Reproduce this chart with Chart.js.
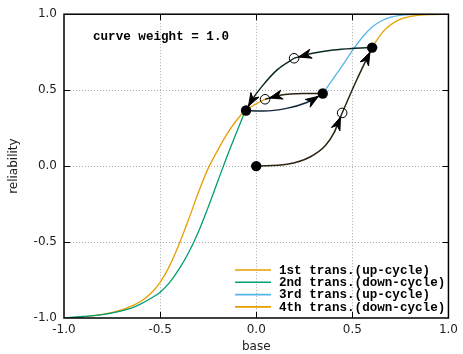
<!DOCTYPE html>
<html><head><meta charset="utf-8">
<script src="https://cdn.jsdelivr.net/npm/chart.js@4"></script>
<style>html,body{margin:0;padding:0;background:#fff}</style>
</head><body>
<canvas id="c" width="463" height="354"></canvas>
<script>
// ---- data ----
const legendLabels = ['1st trans.(up-cycle)', '2nd trans.(down-cycle)', '3rd trans.(up-cycle)', '4th trans.(down-cycle)'];
const tickValues = [-1, -0.5, 0, 0.5, 1];
const annotationText = 'curve weight = 1.0';

// coloured reliability curves
const firstX  = [0.603, 0.63, 0.66, 0.7, 0.75, 0.8, 0.85, 0.9, 1.0];
const firstY  = [0.783, 0.835, 0.885, 0.93, 0.967, 0.985, 0.994, 0.998, 1.0];
const secondX = [-1, -0.9, -0.8, -0.7, -0.65, -0.6, -0.55, -0.5, -0.45, -0.4, -0.35, -0.3, -0.25, -0.2, -0.15, -0.1, -0.056];
const secondY = [-1, -0.99, -0.978, -0.953, -0.935, -0.907, -0.872, -0.83, -0.765, -0.675, -0.565, -0.43, -0.27, -0.1, 0.07, 0.23, 0.366];
const thirdX  = [0.346, 0.4, 0.45, 0.5, 0.55, 0.6, 0.65, 0.7, 0.75, 0.8, 0.9, 1.0];
const thirdY  = [0.478, 0.575, 0.665, 0.76, 0.845, 0.912, 0.955, 0.98, 0.992, 0.997, 1.0, 1.0];
const fourthX = [-1, -0.9, -0.8, -0.7, -0.65, -0.6, -0.55, -0.5, -0.45, -0.4, -0.35, -0.3, -0.25, -0.2, -0.15, -0.1, -0.056, 0, 0.046];
const fourthY = [-1, -0.992, -0.976, -0.946, -0.922, -0.89, -0.84, -0.765, -0.655, -0.51, -0.345, -0.17, -0.015, 0.105, 0.215, 0.305, 0.366, 0.41, 0.44];

// trajectory (arrows) segments
const path1aX = [0, 0.16, 0.28, 0.36, 0.405, 0.428, 0.447];
const path1aY = [0, 0.012, 0.06, 0.135, 0.22, 0.29, 0.35];
const path1bX = [0.447, 0.52, 0.603];
const path1bY = [0.35, 0.56, 0.78];
const path2aX = [0.603, 0.5, 0.4, 0.3, 0.197];
const path2aY = [0.78, 0.775, 0.765, 0.745, 0.71];
const path2bX = [0.197, 0.11, 0.03, -0.02, -0.053];
const path2bY = [0.71, 0.635, 0.525, 0.44, 0.366];
const path3X  = [-0.053, 0.038, 0.158, 0.26, 0.312, 0.346];
const path3Y  = [0.366, 0.362, 0.38, 0.417, 0.45, 0.478];
const path4X  = [0.346, 0.243, 0.123, 0.046];
const path4Y  = [0.478, 0.478, 0.467, 0.44];

// state markers
const filledX = [0, 0.603, -0.053, 0.346];
const filledY = [0, 0.78, 0.366, 0.478];
const openX   = [0.447, 0.197, 0.046];
const openY   = [0.35, 0.71, 0.44];

// ---- helpers ----
const pts = (xs, ys) => xs.map((x, i) => ({x: x, y: ys[i]}));
const ORANGE = '#E69F00', GREEN = '#009E73', BLUE = '#56B4E9';
const MONO = '"Liberation Mono", "DejaVu Sans Mono", monospace';

function curve(label, xs, ys, color, row) {
  return {label, data: pts(xs, ys), showLine: true, borderColor: color, borderWidth: 1.3,
    pointRadius: 0, cubicInterpolationMode: 'monotone', fill: false, order: 3, legendRow: row};
}
function path(xs, ys, color, gap) {
  return {data: pts(xs, ys), showLine: true, borderColor: color, borderWidth: 1.5,
    pointRadius: 0, cubicInterpolationMode: 'monotone', fill: false, order: 2, arrowEnd: true, arrowGap: gap};
}

const datasets = [
  curve(legendLabels[0], firstX, firstY, ORANGE, 0),
  curve(legendLabels[1], secondX, secondY, GREEN, 1),
  curve(legendLabels[2], thirdX, thirdY, BLUE, 2),
  curve(legendLabels[3], fourthX, fourthY, ORANGE, 3),
  path(path1aX, path1aY, '#2c2310', 4.5),
  path(path1bX, path1bY, '#2c2310', 5),
  path(path2aX, path2aY, '#0c2a27', 4.5),
  path(path2bX, path2bY, '#0c2a27', 5),
  path(path3X, path3Y, '#10263a', 5),
  path(path4X, path4Y, '#2c2310', 4.5),
  {data: pts(openX, openY), showLine: false, pointRadius: 4.8, pointBorderWidth: 1,
    pointBorderColor: '#000', pointBackgroundColor: 'rgba(0,0,0,0)', order: 1},
  {data: pts(filledX, filledY), showLine: false, pointRadius: 5.2, pointBorderWidth: 0,
    pointBackgroundColor: '#000', pointBorderColor: '#000', order: 0}
];

const arrowPlugin = {
  id: 'arrows',
  afterDatasetsDraw(chart) {
    const ctx = chart.ctx;
    chart.data.datasets.forEach((ds, i) => {
      if (!ds.arrowEnd) return;
      const els = chart.getDatasetMeta(i).data;
      const n = els.length;
      const tip = els[n - 1];
      let bx = els[n - 2].x, by = els[n - 2].y;
      let dx = tip.x - bx, dy = tip.y - by;
      const L = Math.hypot(dx, dy) || 1; dx /= L; dy /= L;
      const tx = tip.x - dx * ds.arrowGap, ty = tip.y - dy * ds.arrowGap;
      const len = 13, half = 4.6, notch = 9;
      const nx = -dy, ny = dx;
      ctx.save();
      ctx.fillStyle = '#000';
      ctx.strokeStyle = '#000';
      ctx.lineWidth = 1;
      ctx.lineJoin = 'miter';
      ctx.beginPath();
      ctx.moveTo(tx, ty);
      ctx.lineTo(tx - dx * len + nx * half, ty - dy * len + ny * half);
      ctx.lineTo(tx - dx * notch, ty - dy * notch);
      ctx.lineTo(tx - dx * len - nx * half, ty - dy * len - ny * half);
      ctx.closePath();
      ctx.fill();
      ctx.stroke();
      ctx.restore();
    });
  }
};

const framePlugin = {
  id: 'frame',
  afterDraw(chart) {
    const ctx = chart.ctx, a = chart.chartArea;
    const xs = chart.scales.x, ys = chart.scales.y;
    ctx.save();
    ctx.strokeStyle = '#000';
    ctx.lineWidth = 1;
    ctx.beginPath();
    tickValues.forEach(v => {
      if (Math.abs(v) === 1) return;
      const px = Math.round(xs.getPixelForValue(v)) + 0.5;
      ctx.moveTo(px, a.bottom); ctx.lineTo(px, a.bottom - 6);
      ctx.moveTo(px, a.top); ctx.lineTo(px, a.top + 6);
      const py = Math.round(ys.getPixelForValue(v)) + 0.5;
      ctx.moveTo(a.left, py); ctx.lineTo(a.left + 6, py);
      ctx.moveTo(a.right, py); ctx.lineTo(a.right - 6, py);
    });
    ctx.stroke();
    ctx.lineWidth = 1.5;
    ctx.strokeRect(a.left, a.top, a.right - a.left, a.bottom - a.top);
    // annotation text
    ctx.fillStyle = '#000';
    ctx.font = 'bold 12.6px ' + MONO;
    ctx.textBaseline = 'middle';
    ctx.textAlign = 'left';
    ctx.fillText(annotationText, 93, 37);
    // legend inside plot
    const rowsY = [270, 282.3, 294.6, 306.9];
    chart.data.datasets.forEach(ds => {
      if (ds.legendRow === undefined) return;
      const y = rowsY[ds.legendRow];
      ctx.strokeStyle = ds.borderColor;
      ctx.lineWidth = 1.6;
      ctx.beginPath(); ctx.moveTo(235, y); ctx.lineTo(271, y); ctx.stroke();
      ctx.fillStyle = '#000';
      ctx.fillText(ds.label, 279, y + 0.5);
    });
    ctx.restore();
  }
};

const axisFont = {family: '"DejaVu Sans", sans-serif', size: 12};
const gridColor = ctx => (Math.abs(ctx.tick.value) === 1 ? 'rgba(0,0,0,0)' : '#aaaaaa');

new Chart(document.getElementById('c'), {
  type: 'scatter',
  data: {datasets},
  options: {
    responsive: false, animation: false, devicePixelRatio: 1,
    layout: {padding: {top: 14, right: 9, left: 0, bottom: 0}},
    plugins: {legend: {display: false}, tooltip: {enabled: false}},
    scales: {
      x: {type: 'linear', min: -1, max: 1,
        afterBuildTicks: s => { s.ticks = tickValues.map(v => ({value: v})); },
        ticks: {padding: 5, color: '#222', font: axisFont, callback: v => v.toFixed(1), maxRotation: 0},
        grid: {drawTicks: false, color: gridColor, lineWidth: 1},
        border: {display: false, dash: [1, 2]},
        title: {display: true, text: 'base', color: '#222', font: axisFont, padding: {top: 0, bottom: 0}},
        afterFit: s => { s.height = 36; }
      },
      y: {type: 'linear', min: -1, max: 1,
        afterBuildTicks: s => { s.ticks = tickValues.map(v => ({value: v})); },
        ticks: {padding: 7, color: '#222', font: axisFont, callback: v => v.toFixed(1)},
        grid: {drawTicks: false, color: gridColor, lineWidth: 1},
        border: {display: false, dash: [1, 2]},
        title: {display: true, text: 'reliability', color: '#222', font: axisFont, padding: {top: 7, bottom: 0}},
        afterFit: s => { s.width = 64; }
      }
    }
  },
  plugins: [arrowPlugin, framePlugin]
});
</script>
</body></html>
